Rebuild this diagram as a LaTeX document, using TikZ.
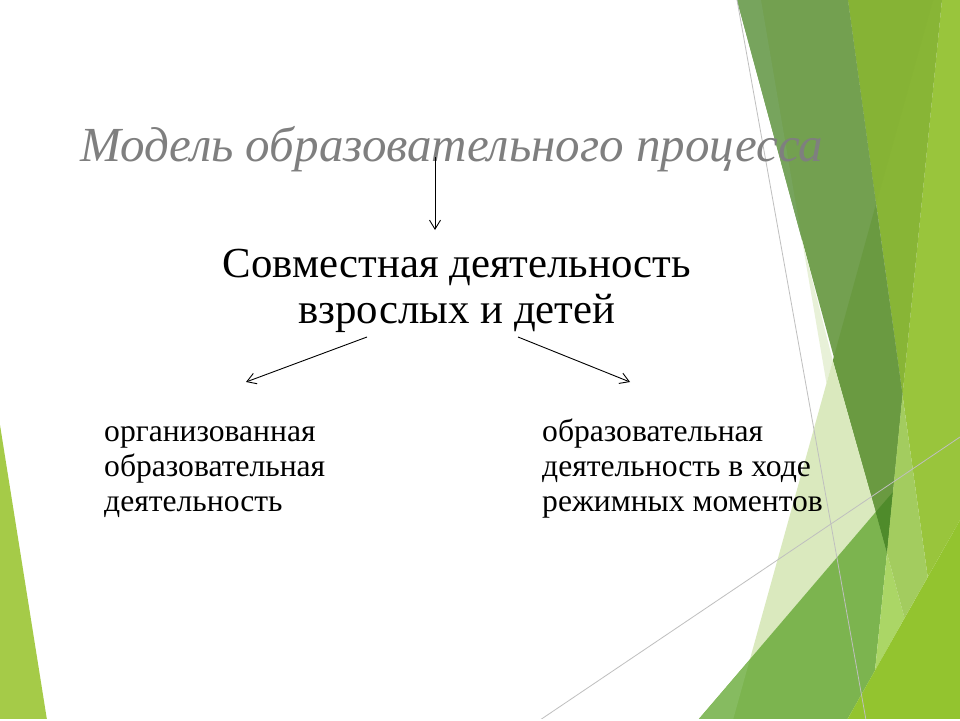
\documentclass[tikz,border=0pt]{standalone}
\usepackage{fontspec}
\setmainfont{Liberation Serif}
\usetikzlibrary{arrows.meta}
\definecolor{cC}{HTML}{99C53C}
\definecolor{cB}{HTML}{88B536}
\definecolor{cBtwo}{HTML}{86B335}
\definecolor{cDark}{HTML}{73A050}
\definecolor{cDarker}{HTML}{6A9A41}
\definecolor{cStrip}{HTML}{77A45D}
\definecolor{cPaleStrip}{HTML}{E8F1D8}
\definecolor{cPale}{HTML}{DAE9BE}
\definecolor{cG}{HTML}{7CB44F}
\definecolor{cGlight}{HTML}{86BB60}
\definecolor{cGdark}{HTML}{4F8B2B}
\definecolor{cLightA}{HTML}{ABD666}
\definecolor{cLightB}{HTML}{A3CC5F}
\definecolor{cYG}{HTML}{93C42F}
\definecolor{cLeft}{HTML}{A5CB48}
\definecolor{cGreyLine}{HTML}{BFBFBF}
\definecolor{cTitle}{HTML}{7F7F7F}
\tikzset{
  facet/.style={draw=none},
  thinline/.style={draw=cGreyLine, line width=0.8pt},
  bodytext/.style={anchor=base west, inner sep=0pt, font=\fontsize{31.6}{36}\selectfont},
  maintext/.style={anchor=base, inner sep=0pt, font=\fontsize{42.8}{50}\selectfont},
  titletext/.style={anchor=base west, inner sep=0pt, text=cTitle, font=\fontsize{49}{56}\selectfont\itshape},
  arrowline/.style={draw=black, line width=0.9pt, -{Straight Barb[length=9pt,width=11pt]}}
}
\begin{document}
\begin{tikzpicture}[x=1pt,y=-1pt]
\path[use as bounding box, fill=white] (0,0) rectangle (960,720);
\begin{scope}
\clip (0,0) rectangle (960,718);
% left triangle
\fill[cLeft] (0,425) -- (47,720) -- (0,720) -- cycle;
% right facets
\fill[cC] (942,0) -- (960,0) -- (960,520) -- (927.7,577) -- (902.5,395) -- cycle;
\fill[cB] (848,0) -- (942,0) -- (902.5,395) -- cycle;
\fill[cBtwo] (848,0) -- (933,0) -- (876,204) -- cycle;
\fill[cDark] (737,0) -- (848,0) -- (902.5,395) -- (887,553) -- cycle;
\fill[cDarker] (876,204) -- (902.5,395) -- (887,553) -- (832.8,360.6) -- cycle;
\fill[cStrip] (737,0) -- (761,0) -- (802,240) -- cycle;
\fill[cPaleStrip] (802,240) -- (826.5,383.5) -- (832.8,360.6) -- cycle;
\fill[cPale] (832.8,360.6) -- (875.7,512) -- (749.7,660) -- cycle;
\fill[cG] (698,720) -- (875.7,512) -- (887,553) -- (875,670.5) -- (847,720) -- cycle;
\fill[cGlight] (698,720) -- (749.7,660) -- (733,720) -- cycle;
\fill[cGdark] (875.7,512) -- (893,492) -- (887,553) -- cycle;
\fill[cLightA] (887,553) -- (904.5,618) -- (875,670.5) -- cycle;
\fill[cLightB] (902.5,395) -- (927.7,577) -- (904.5,618) -- (887,553) -- cycle;
\fill[cYG] (847,720) -- (960,520) -- (960,720) -- cycle;
% thin grey lines
\draw[thinline] (737,0) -- (866,720);
\draw[thinline] (540,720) -- (960,437);
\end{scope}
% texts
\node[titletext] (title) at (80,161) {Модель образовательного процесса};
\node[maintext] (main1) at (457,277) {Совместная деятельность};
\node[maintext] (main2) at (457,323) {взрослых и детей};
\node[bodytext] (left1) at (104,441) {организованная};
\node[bodytext] (left2) at (104,476) {образовательная};
\node[bodytext] (left3) at (104,511) {деятельность};
\node[bodytext] (right1) at (542,441) {образовательная};
\node[bodytext] (right2) at (542,476) {деятельность в ходе};
\node[bodytext] (right3) at (542,511) {режимных моментов};
% connectors
\coordinate (aTopS) at (435,157);
\coordinate (aTopE) at (435,230);
\coordinate (aLS) at (367,337);
\coordinate (aLE) at (246,382);
\coordinate (aRS) at (518,337);
\coordinate (aRE) at (630,382);
\draw[arrowline] (aTopS) -- (aTopE);
\draw[arrowline] (aLS) -- (aLE);
\draw[arrowline] (aRS) -- (aRE);
\end{tikzpicture}
\end{document}
